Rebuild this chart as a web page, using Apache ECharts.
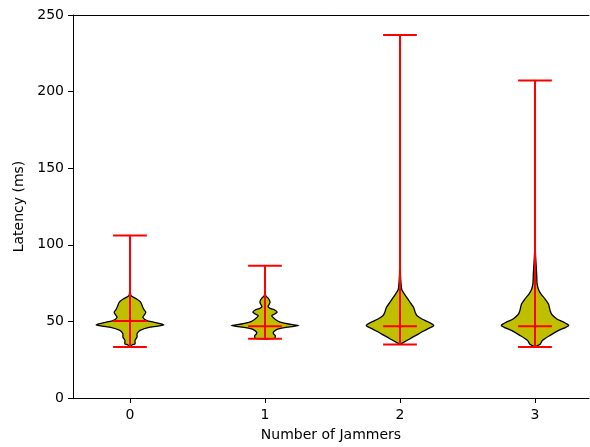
<!DOCTYPE html>
<html><head><meta charset="utf-8">
<script src="https://cdn.jsdelivr.net/npm/echarts@6/dist/echarts.min.js"></script>
<style>html,body{margin:0;padding:0;background:#fff}#c{width:590px;height:447px}</style>
</head><body><div id="c"></div>
<script>
// Categories (number of jammers) and y tick labels
const categories = [0, 1, 2, 3];
const xTicks = [0, 1, 2, 3];
const yTicks = [0, 50, 100, 150, 200, 250];

// Violin profiles: latency values (ms) and relative density width (0..1)
const v0Values = [33.3, 34.6, 35.4, 37.6, 39.8, 41.9, 44.1, 46.2, 47.7, 49.5, 50.5, 52.7, 54, 56, 57.5, 59.2, 62.4, 64.6, 66.8, 70, 80, 90, 106];
const v0Widths = [0.02, 0.06, 0.15, 0.15, 0.21, 0.21, 0.3, 0.6, 1.0, 0.7, 0.5, 0.38, 0.42, 0.47, 0.42, 0.38, 0.32, 0.2, 0.03, 0.01, 0.006, 0.004, 0.002];

const v1Values = [38.7, 39.5, 40.9, 42, 43, 44, 45.1, 46.3, 47.3, 48.3, 49.5, 51.4, 53.8, 55, 56, 57.3, 58.5, 59.6, 61, 62.4, 64, 65.5, 66.8, 70, 86.4];
const v1Widths = [0.25, 0.3, 0.3, 0.25, 0.25, 0.3, 0.4, 0.7, 1.0, 0.7, 0.45, 0.3, 0.2, 0.3, 0.36, 0.3, 0.15, 0.09, 0.12, 0.15, 0.13, 0.08, 0.02, 0.005, 0.002];

const v2Values = [35, 36, 38.7, 41.9, 45.1, 47.3, 49.5, 51.6, 53.8, 56, 59.2, 62.4, 65.7, 68.9, 71, 75, 80, 90, 100, 150, 237];
const v2Widths = [0.0, 0.08, 0.3, 0.55, 0.82, 1.0, 0.85, 0.65, 0.5, 0.45, 0.4, 0.3, 0.2, 0.1, 0.05, 0.03, 0.015, 0.006, 0.003, 0.002, 0.001];

const v3Values = [33.3, 35.1, 37.6, 40.9, 44.1, 47.3, 49.5, 51.6, 54.5, 57, 61.3, 64.6, 67.8, 71, 75, 80.7, 91.5, 100, 150, 207.3];
const v3Widths = [0.0, 0.15, 0.22, 0.45, 0.7, 1.0, 0.85, 0.65, 0.5, 0.45, 0.4, 0.3, 0.18, 0.1, 0.06, 0.05, 0.02, 0.005, 0.002, 0.001];

// Summary statistics drawn in red
const mins = [33.3, 38.7, 35, 33.3];
const maxs = [106, 86.4, 237, 207.3];
const means = [50.3, 46.9, 46.9, 46.9];

const violinValues = [v0Values, v1Values, v2Values, v3Values];
const violinWidths = [v0Widths, v1Widths, v2Widths, v3Widths];
const halfWidth = 0.25;
const capHalf = 0.125;

const chart = echarts.init(document.getElementById('c'), null, {renderer: 'canvas'});
const font = 'DejaVu Sans';

chart.setOption({
  animation: false,
  backgroundColor: '#fff',
  grid: {left: 73, top: 15, width: 516, height: 388.5, containLabel: false},
  xAxis: [{
    type: 'value', min: -0.422, max: 3.4,
    axisLine: {show: true, onZero: false, lineStyle: {color: '#000', width: 1}},
    axisTick: {show: true, customValues: xTicks, length: 5, lineStyle: {color: '#000', width: 1}},
    axisLabel: {show: true, customValues: xTicks, margin: 10, color: '#000', fontSize: 14, fontFamily: font},
    splitLine: {show: false},
    name: 'Number of Jammers', nameLocation: 'middle', nameGap: 30,
    nameTextStyle: {color: '#000', fontSize: 14, fontFamily: font}
  }, {
    type: 'value', position: 'top', min: -0.422, max: 3.4,
    axisLine: {show: true, onZero: false, lineStyle: {color: '#000', width: 1}},
    axisTick: {show: false}, axisLabel: {show: false}, splitLine: {show: false}
  }],
  yAxis: {
    type: 'value', min: 0, max: 250, interval: 50,
    axisLine: {show: true, onZero: false, lineStyle: {color: '#000', width: 1}},
    axisTick: {show: true, length: 5, lineStyle: {color: '#000', width: 1}},
    axisLabel: {margin: 9, color: '#000', fontSize: 14, fontFamily: font},
    splitLine: {show: false},
    name: 'Latency (ms)', nameLocation: 'middle', nameGap: 41,
    nameTextStyle: {color: '#000', fontSize: 14, fontFamily: font}
  },
  series: [{
    type: 'custom',
    data: categories.map((c, i) => [c, means[i]]),
    renderItem: function (params, api) {
      const i = params.dataIndex;
      const pos = categories[i];
      const vals = violinValues[i], ws = violinWidths[i];
      const pts = [];
      for (let k = 0; k < vals.length; k++) pts.push(api.coord([pos + ws[k] * halfWidth, vals[k]]));
      for (let k = vals.length - 1; k >= 0; k--) pts.push(api.coord([pos - ws[k] * halfWidth, vals[k]]));
      return {type: 'polygon', shape: {points: pts, smooth: 0.2}, style: {fill: '#bfbf00', stroke: '#000', lineWidth: 1.3}};
    }
  }, {
    type: 'custom',
    data: categories.map((c, i) => [c, means[i]]),
    z: 5,
    renderItem: function (params, api) {
      const i = params.dataIndex;
      const pos = categories[i];
      const st = {stroke: '#ff0000', lineWidth: 2};
      const seg = (x1, y1, x2, y2) => {
        const a = api.coord([x1, y1]), b = api.coord([x2, y2]);
        return {type: 'line', shape: {x1: a[0], y1: a[1], x2: b[0], y2: b[1]}, style: st};
      };
      return {type: 'group', children: [
        seg(pos, mins[i], pos, maxs[i]),
        seg(pos - capHalf, mins[i], pos + capHalf, mins[i]),
        seg(pos - capHalf, maxs[i], pos + capHalf, maxs[i]),
        seg(pos - capHalf, means[i], pos + capHalf, means[i])
      ]};
    }
  }]
});
</script></body></html>
